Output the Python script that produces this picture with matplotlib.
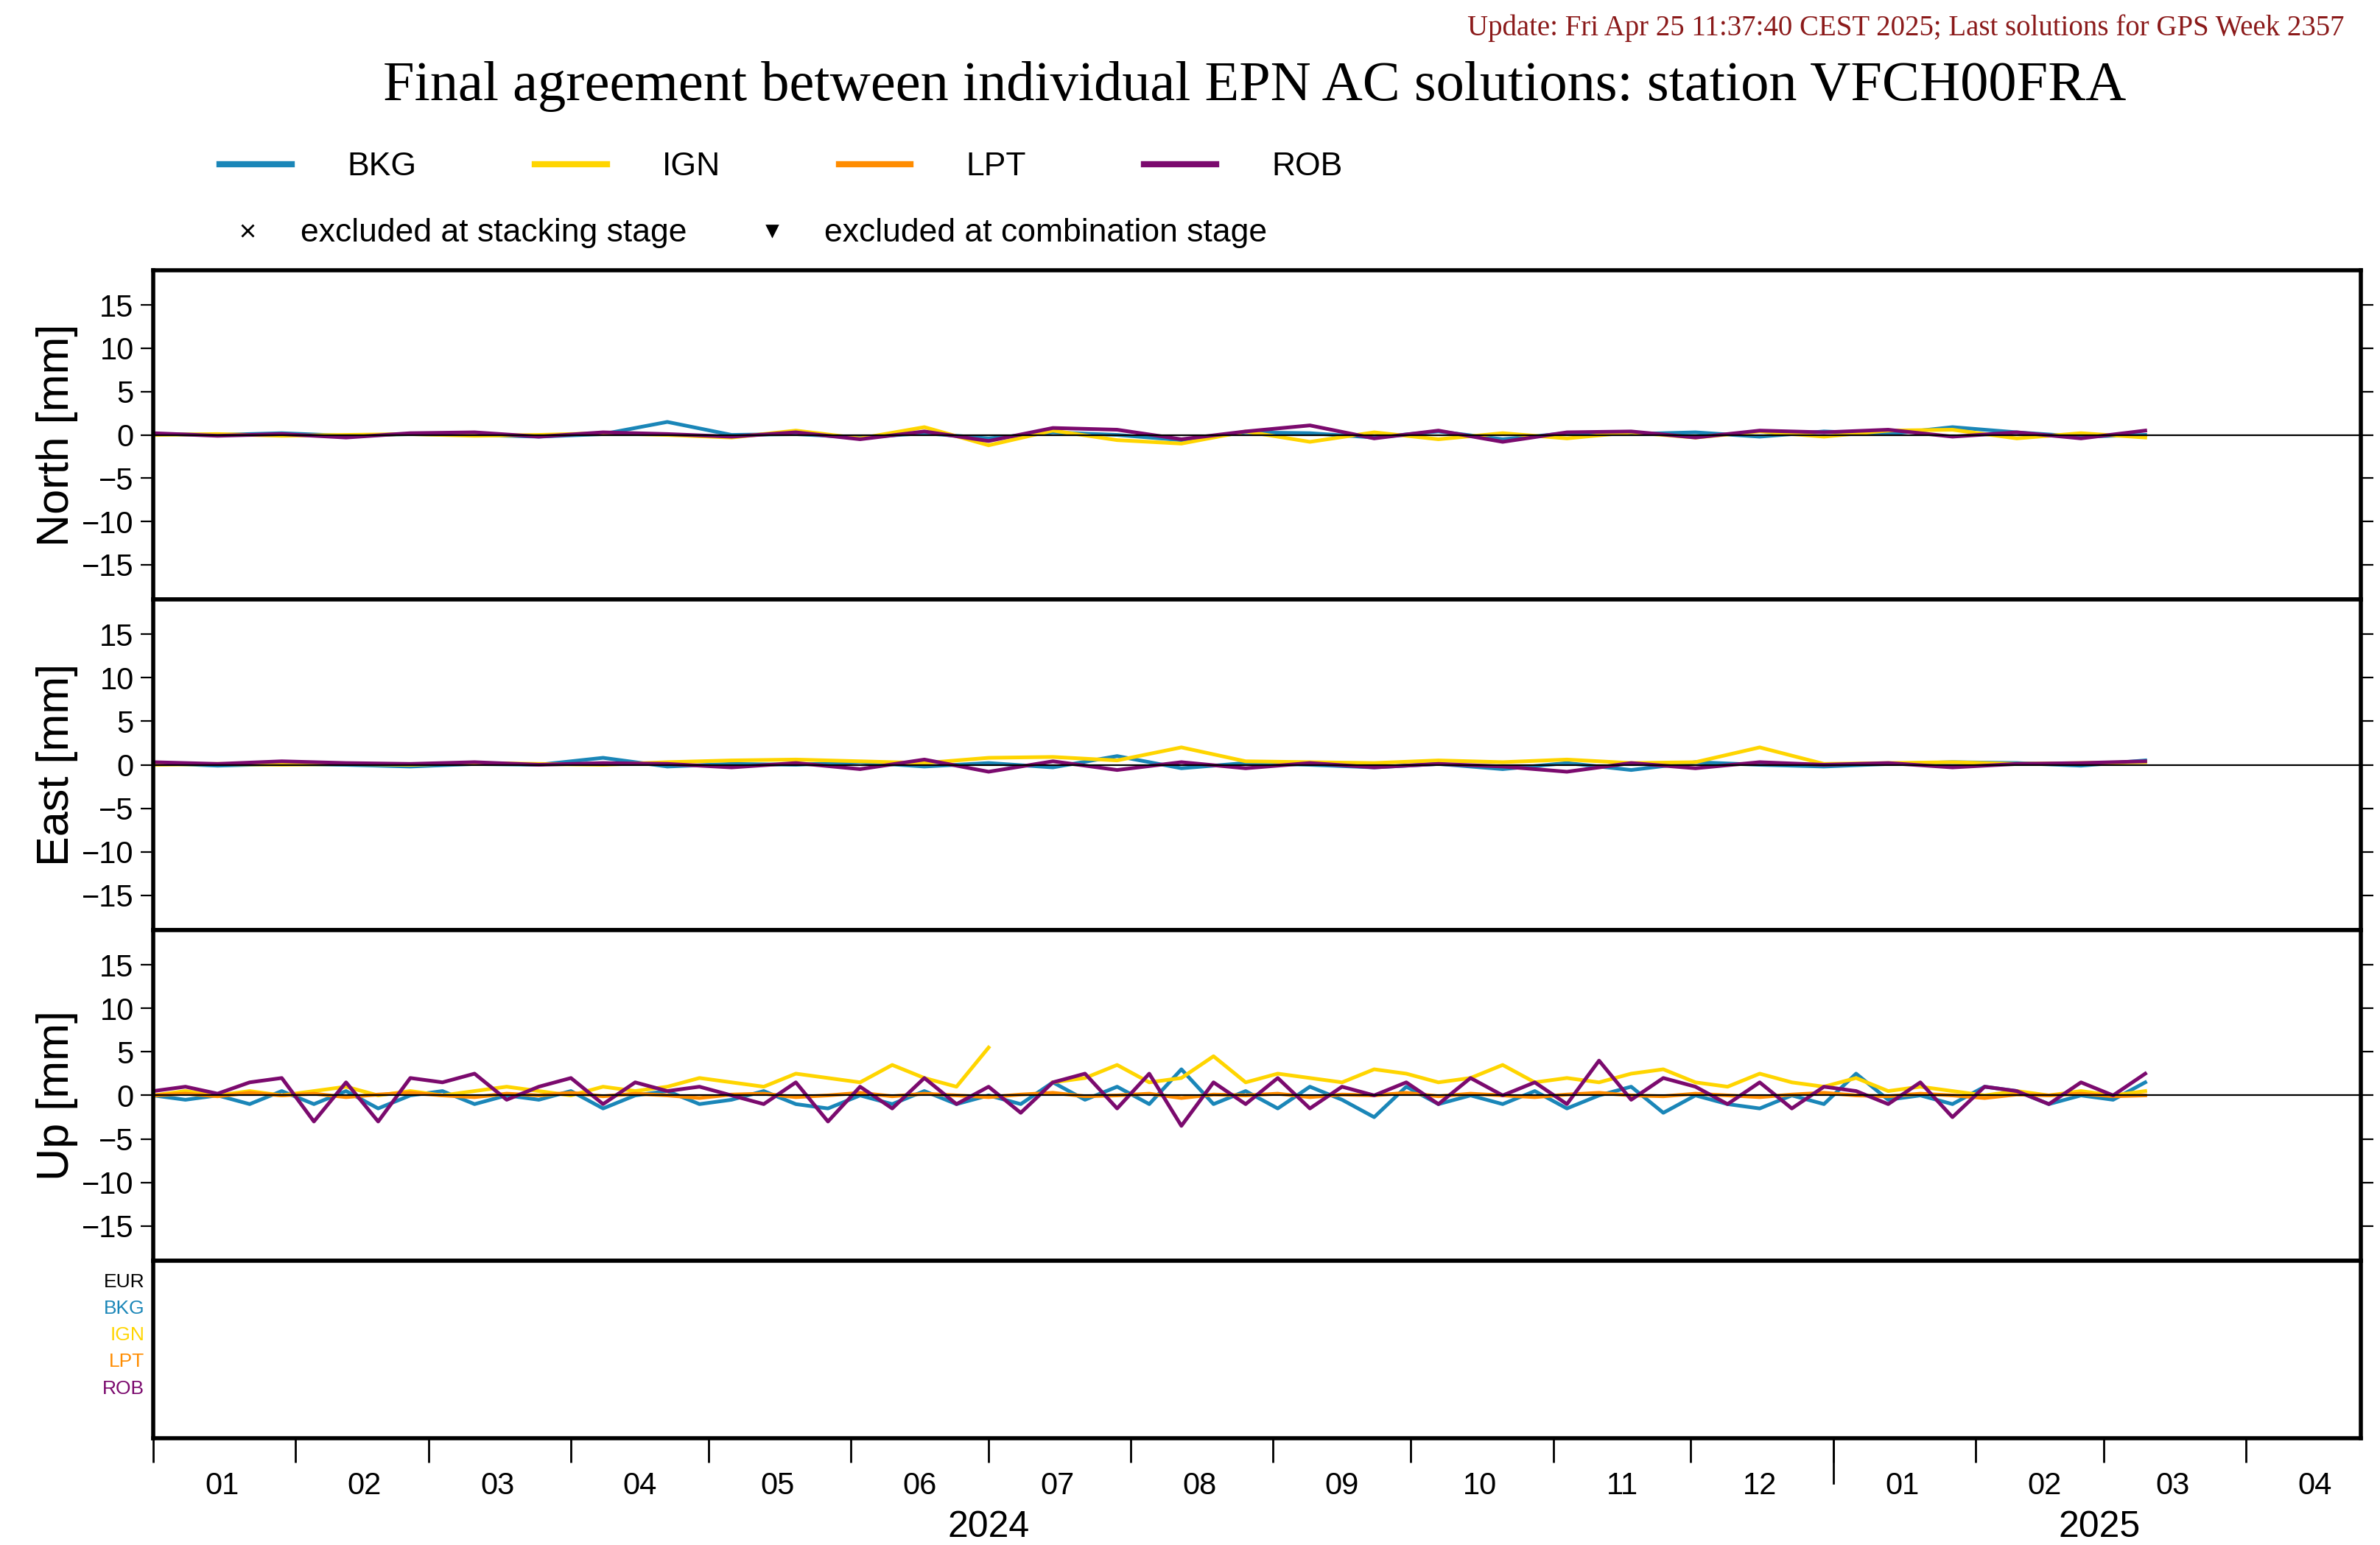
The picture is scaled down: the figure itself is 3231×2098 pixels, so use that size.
import numpy as np
import matplotlib
matplotlib.use("Agg")
import matplotlib.pyplot as plt
import matplotlib.dates as mdates
from matplotlib.lines import Line2D

plt.rcParams['font.family'] = ['Liberation Sans', 'DejaVu Sans']

start = np.datetime64('2024-01-01')

# North / East sampled every 14 days, Up every 7 days
north = {
    "BKG": [0.1, 0.0, 0.2, -0.1, 0.1, 0.0, -0.2, 0.1, 1.5, 0.0, 0.1, -0.3, 0.2, -0.4, 0.3, 0.0,
            -0.6, 0.3, 0.2, -0.3, 0.4, -0.5, 0.2, 0.1, 0.3, -0.2, 0.4, 0.1, 0.9, 0.3, -0.2, 0.0],
    "IGN": [0.0, 0.1, -0.1, 0.0, 0.1, -0.1, 0.0, 0.2, 0.0, -0.3, 0.5, -0.4, 0.9, -1.2, 0.5, -0.6,
            -1.0, 0.4, -0.8, 0.3, -0.5, 0.2, -0.4, 0.3, -0.3, 0.4, -0.2, 0.5, 0.6, -0.4, 0.2, -0.3],
    "ROB": [0.2, -0.1, 0.1, -0.3, 0.2, 0.3, -0.2, 0.3, 0.1, -0.2, 0.3, -0.5, 0.4, -0.7, 0.8, 0.6,
            -0.5, 0.4, 1.1, -0.4, 0.5, -0.8, 0.3, 0.4, -0.3, 0.5, 0.3, 0.6, -0.2, 0.3, -0.4, 0.5],
}
east = {
    "BKG": [0.2, -0.1, 0.1, 0.0, -0.2, 0.1, 0.0, 0.8, -0.2, 0.1, 0.0, 0.3, -0.2, 0.2, -0.3, 1.0,
            -0.4, 0.2, 0.0, -0.3, 0.1, -0.5, 0.2, -0.6, 0.3, 0.0, -0.2, 0.1, 0.3, 0.2, -0.1, 0.5],
    "IGN": [0.0, 0.1, 0.0, 0.1, 0.0, 0.2, 0.1, 0.0, 0.3, 0.5, 0.6, 0.4, 0.2, 0.8, 0.9, 0.5,
            2.0, 0.4, 0.3, 0.2, 0.5, 0.3, 0.6, 0.2, 0.3, 2.0, 0.1, 0.2, 0.3, 0.1, 0.2, 0.3],
    "ROB": [0.3, 0.1, 0.4, 0.2, 0.1, 0.3, 0.0, 0.2, 0.1, -0.3, 0.2, -0.5, 0.6, -0.8, 0.4, -0.6,
            0.3, -0.4, 0.2, -0.3, 0.1, -0.2, -0.8, 0.2, -0.4, 0.3, 0.0, 0.2, -0.3, 0.1, 0.2, 0.4],
}
up = {
    "BKG": [0.0, -0.5, 0.0, -1.0, 0.5, -1.0, 0.5, -1.5, 0.0, 0.5, -1.0, 0.0, -0.5, 0.5, -1.5, 0.0,
            0.5, -1.0, -0.5, 0.5, -1.0, -1.5, 0.0, -1.0, 0.5, -1.0, 0.0, -1.0, 1.5, -0.5, 1.0, -1.0,
            3.0, -1.0, 0.5, -1.5, 1.0, -0.5, -2.5, 1.0, -1.0, 0.0, -1.0, 0.5, -1.5, 0.0, 1.0, -2.0,
            0.0, -1.0, -1.5, 0.0, -1.0, 2.5, -0.5, 0.0, -1.0, 1.0, 0.5, -1.0, 0.0, -0.5, 1.5],
    "IGN": [0.0, 0.5, 0.0, 0.5, 0.0, 0.5, 1.0, 0.0, 0.5, 0.0, 0.5, 1.0, 0.5, 0.0, 1.0, 0.5,
            1.0, 2.0, 1.5, 1.0, 2.5, 2.0, 1.5, 3.5, 2.0, 1.0, 5.5, np.nan, 1.5, 2.0, 3.5, 1.5,
            2.0, 4.5, 1.5, 2.5, 2.0, 1.5, 3.0, 2.5, 1.5, 2.0, 3.5, 1.5, 2.0, 1.5, 2.5, 3.0,
            1.5, 1.0, 2.5, 1.5, 1.0, 2.0, 0.5, 1.0, 0.5, 0.0, 0.5, 0.0, 0.5, 0.0, 0.5],
    "LPT": [0.0, 0.2, -0.1, 0.3, 0.0, 0.2, -0.2, 0.1, 0.3, 0.0, -0.2, 0.2, 0.0, 0.3, -0.1, 0.2,
            0.0, -0.3, 0.1, 0.2, -0.2, 0.0, 0.3, -0.1, 0.2, 0.0, -0.2, 0.1, 0.3, -0.1, 0.0, 0.2,
            -0.3, 0.1, 0.0, 0.2, -0.2, 0.1, 0.0, 0.3, -0.1, 0.2, 0.0, -0.2, 0.1, 0.3, 0.0, -0.1,
            0.2, 0.0, -0.2, 0.1, 0.3, 0.0, -0.1, 0.2, 0.0, -0.3, 0.1, 0.0, 0.2, -0.1, 0.0],
    "ROB": [0.5, 1.0, 0.2, 1.5, 2.0, -3.0, 1.5, -3.0, 2.0, 1.5, 2.5, -0.5, 1.0, 2.0, -1.0, 1.5,
            0.5, 1.0, 0.0, -1.0, 1.5, -3.0, 1.0, -1.5, 2.0, -1.0, 1.0, -2.0, 1.5, 2.5, -1.5, 2.5,
            -3.5, 1.5, -1.0, 2.0, -1.5, 1.0, 0.0, 1.5, -1.0, 2.0, 0.0, 1.5, -1.0, 4.0, -0.5, 2.0,
            1.0, -1.0, 1.5, -1.5, 1.0, 0.5, -1.0, 1.5, -2.5, 1.0, 0.5, -1.0, 1.5, 0.0, 2.5],
}
colors = {"BKG": "#1a86b8", "IGN": "#ffd500", "LPT": "#ff8c00", "ROB": "#7b0a6e"}
panel_labels = ["North [mm]", "East [mm]", "Up [mm]"]
month_labels = ["01", "02", "03", "04", "05", "06", "07", "08", "09", "10", "11", "12",
                "01", "02", "03", "04"]

fig = plt.figure(figsize=(16.155, 10.49), dpi=200)
xmin, xmax = np.datetime64('2024-01-01'), np.datetime64('2025-04-26')

bounds = [(0.612, 0.825), (0.398, 0.612), (0.184, 0.398)]
for (b, t), data, step, lab in zip(bounds, [north, east, up], [14, 14, 7], panel_labels):
    ax = fig.add_axes([0.0644, b, 0.9276, t - b])
    for name in ["BKG", "IGN", "LPT", "ROB"]:
        if name not in data:
            continue
        vals = np.array(data[name], dtype=float)
        d = start + np.arange(len(vals)) * np.timedelta64(step, 'D')
        ax.plot(d, vals, color=colors[name], lw=1.8)
    ax.axhline(0, color="black", lw=0.8)
    ax.set_ylim(-19, 19)
    ax.set_yticks(np.arange(-15, 16, 5))
    ax.set_xlim(xmin, xmax)
    ax.set_xticks([])
    ax.tick_params(axis="y", direction="out", length=6, labelsize=15, right=True)
    ax.set_ylabel(lab, fontsize=22, labelpad=2)
    for s in ax.spines.values():
        s.set_linewidth(2)

ax4 = fig.add_axes([0.0644, 0.069, 0.9276, 0.115])
ax4.set_xlim(xmin, xmax)
ax4.set_yticks([])
for s in ax4.spines.values():
    s.set_linewidth(2)
for i, (nm, c) in enumerate([("EUR", "black"), ("BKG", colors["BKG"]), ("IGN", colors["IGN"]),
                             ("LPT", colors["LPT"]), ("ROB", colors["ROB"])]):
    ax4.text(-0.004, 0.88 - i * 0.15, nm, color=c, fontsize=9.5, ha="right", va="center",
             transform=ax4.transAxes)

month_starts = np.arange(np.datetime64('2024-01'), np.datetime64('2025-05'), np.timedelta64(1, 'M')).astype('datetime64[D]')
ax4.set_xticks(month_starts)
ax4.set_xticklabels([])
ax4.tick_params(axis="x", which="major", length=12, width=1, direction="out")
mids = month_starts + np.timedelta64(15, 'D')
ax4.set_xticks(mids, minor=True)
ax4.set_xticklabels(month_labels, minor=True, fontsize=15)
ax4.tick_params(axis="x", which="minor", length=0, pad=16)
ax4.axvline(np.datetime64('2025-01-01'), ymin=-0.25, ymax=0, color="black", lw=1, clip_on=False)
ax4.text(mdates.date2num(np.datetime64('2024-07-01')), -0.5, "2024", fontsize=18,
         ha="center", va="center", transform=ax4.get_xaxis_transform())
ax4.text(mdates.date2num(np.datetime64('2025-02-28')), -0.5, "2025", fontsize=18,
         ha="center", va="center", transform=ax4.get_xaxis_transform())

fig.text(0.985, 0.982, "Update: Fri Apr 25 11:37:40 CEST 2025; Last solutions for GPS Week 2357",
         color="#8b1a1a", fontsize=14, ha="right", va="center", family="Liberation Serif")
fig.text(0.527, 0.944, "Final agreement between individual EPN AC solutions: station VFCH00FRA",
         fontsize=27.5, ha="center", va="center", family="Liberation Serif")

handles = [Line2D([], [], color=colors[n], lw=3) for n in ["BKG", "IGN", "LPT", "ROB"]]
fig.legend(handles, ["BKG", "IGN", "LPT", "ROB"], loc="center left", bbox_to_anchor=(0.08, 0.892),
           ncol=4, frameon=False, fontsize=16, handlelength=2.2, columnspacing=3.6, handletextpad=1.7)
mh = [Line2D([], [], color="black", marker="x", ls="", ms=6),
      Line2D([], [], color="black", marker="v", ls="", ms=5)]
fig.legend(mh, ["excluded at stacking stage", "excluded at combination stage"], loc="center left",
           bbox_to_anchor=(0.078, 0.849), ncol=2, frameon=False, fontsize=16, columnspacing=1.6,
           handletextpad=0.6)

fig.savefig("out.png", dpi=200)
